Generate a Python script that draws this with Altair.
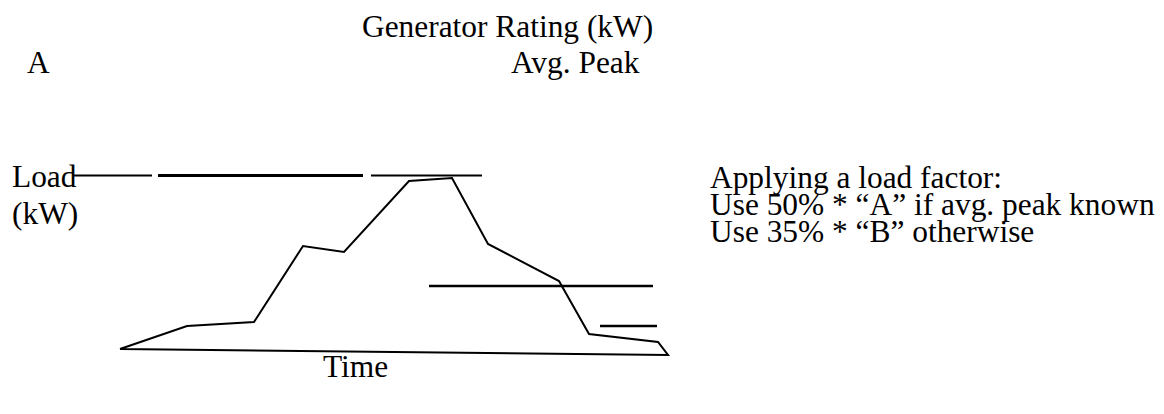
import altair as alt
import pandas as pd

# Diagram coordinates (horizontal = time position, vertical = level, top-down)
curve_t = [120, 187, 254, 303, 344, 409, 452, 488, 559, 589, 658, 668, 120]
curve_v = [349, 326, 322, 246, 252, 181, 178, 244, 281, 334, 342, 355, 349]

# Rating lines: start, end, level, weight
rule_t1 = [73, 158, 371, 429, 600]
rule_t2 = [152, 363, 482, 653, 657]
rule_v = [175.5, 175.5, 175.5, 286, 326]
rule_w = [1.8, 2.8, 2.2, 2.6, 2.6]

labels = ["Generator Rating (kW)", "A", "Avg. Peak", "Load", "(kW)",
          "Applying a load factor:", "Use 50% * \u201cA\u201d if avg. peak known",
          "Use 35% * \u201cB\u201d otherwise", "Time"]
label_t = [362, 27, 511, 12, 12, 710, 710, 710, 323]
label_v = [37, 73, 73, 187, 224, 188, 215, 242, 377]

curve = pd.DataFrame({"t": curve_t, "v": curve_v, "o": list(range(len(curve_t)))})
rules = pd.DataFrame({"t1": rule_t1, "t2": rule_t2, "v": rule_v, "w": rule_w})
texts = pd.DataFrame({"t": label_t, "v": label_v, "label": labels})

xs = alt.Scale(domain=[8, 1156])
ys = alt.Scale(domain=[8, 406], reverse=True)

line = alt.Chart(curve).mark_line(color="black", strokeWidth=2, strokeJoin="miter").encode(
    x=alt.X("t:Q", scale=xs, axis=None),
    y=alt.Y("v:Q", scale=ys, axis=None),
    order="o:Q",
)

rule = alt.Chart(rules).mark_rule(color="black").encode(
    x=alt.X("t1:Q", scale=xs, axis=None),
    x2="t2:Q",
    y=alt.Y("v:Q", scale=ys, axis=None),
    strokeWidth=alt.StrokeWidth("w:Q", scale=None),
)

text = alt.Chart(texts).mark_text(
    align="left", baseline="alphabetic", font="Liberation Serif", fontSize=31.4, color="black"
).encode(
    x=alt.X("t:Q", scale=xs, axis=None),
    y=alt.Y("v:Q", scale=ys, axis=None),
    text="label:N",
)

chart = alt.layer(rule, line, text).properties(
    width=1148, height=398, autosize=alt.AutoSizeParams(type="none"), padding=0
).configure_view(stroke=None)

chart.save("out.html", embed_options={"renderer": "svg", "actions": False})
